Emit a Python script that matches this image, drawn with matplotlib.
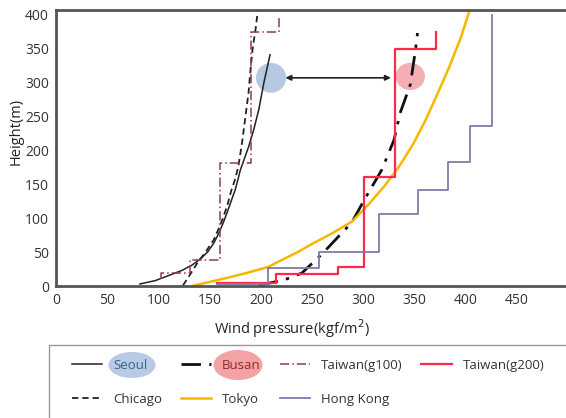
import numpy as np
import matplotlib.pyplot as plt
from matplotlib.patches import Ellipse, Rectangle

plt.rcParams['font.family'] = ['Open Sans', 'DejaVu Sans']

# smooth curves: pressure (kgf/m2) vs height (m)
seoul_p = [82, 97, 111, 123, 133, 141, 148, 154, 159, 163, 167, 171, 175, 177.5,
           180, 184, 188, 193, 198, 203, 209]
seoul_h = [3, 8, 16, 23, 31, 40, 50, 63, 78, 92, 108, 125, 142, 156,
           171, 188, 205, 230, 260, 300, 341]

chicago_p = [124, 131, 138, 146, 154, 159, 163, 167.5, 171, 175, 178, 180, 182,
             185, 188, 190, 192, 195, 197]
chicago_h = [1, 17, 34, 50, 68, 85, 100, 120, 140, 158, 176, 195, 215,
             250, 285, 320, 350, 380, 405]

busan_p = [198, 223, 240, 259, 289, 301, 318, 330, 336, 346, 351, 353]
busan_h = [1, 9, 19, 46, 94, 127, 171, 215, 255, 297, 348, 373]

tokyo_p = [133, 150, 170, 188, 207, 220, 236, 250, 270, 289, 305, 321, 335,
           349, 361, 373, 384, 395, 404]
tokyo_h = [0, 6, 13, 20, 28, 38, 50, 62, 78, 95, 120, 148, 176,
           210, 245, 285, 323, 365, 407]

# step curves
tw100_p = [103, 103, 131, 160, 190, 218]
tw100_h = [10, 19, 38, 181, 375, 400]

tw200_p = [157, 215, 275, 301, 331, 371]
tw200_h = [5, 18, 28, 161, 350, 375]

hk_p = [157, 207, 257, 315, 353, 383, 404, 426]
hk_h = [3, 27, 50, 106, 142, 183, 236, 400]

xticks = [0, 50, 100, 150, 200, 250, 300, 350, 400, 450]
yticks = [0, 50, 100, 150, 200, 250, 300, 350, 400]

fig = plt.figure(figsize=(5.66, 4.18), dpi=100)
ax = fig.add_axes([56/566, 132/418, 510/566, 276/418])

l_seoul, = ax.plot(seoul_p, seoul_h, color='#222222', lw=1.1, label='Seoul')
l_chi, = ax.plot(chicago_p, chicago_h, color='#222222', lw=1.3, ls=(0, (3.5, 2.2)), label='Chicago')
l_busan, = ax.plot(busan_p, busan_h, color='#111111', lw=2, ls=(0, (7, 3, 1.2, 3)), label='Busan')
l_tokyo, = ax.plot(tokyo_p, tokyo_h, color='#F5B800', lw=1.8, label='Tokyo')
l_tw1, = ax.step(tw100_p, tw100_h, where='post', color='#8E3B4E', lw=1.1,
                 ls=(0, (6, 2, 1, 2)), label='Taiwan(g100)')
l_tw2, = ax.step(tw200_p, tw200_h, where='post', color='#FF2A4A', lw=1.6, label='Taiwan(g200)')
l_hk, = ax.step(hk_p, hk_h, where='post', color='#7D7DAA', lw=1.3, label='Hong Kong')

# highlight marks
ax.add_patch(Ellipse((210, 307), 29.5, 44, color='#9DB8DA', alpha=0.75, lw=0, zorder=1))
ax.add_patch(Ellipse((346, 309), 28.6, 40, color='#F39AA2', alpha=0.8, lw=0, zorder=1))
ax.annotate('', xy=(224, 307), xytext=(327, 307),
            arrowprops=dict(arrowstyle='<|-|>', color='#222222', lw=1.2,
                            mutation_scale=8, shrinkA=0, shrinkB=0))

ax.set_xlim(0, 498)
ax.set_ylim(0, 407)
ax.set_xticks(xticks)
ax.set_yticks(yticks)
ax.tick_params(length=0, labelsize=10, labelcolor='#333333', pad=5)
for s in ['left', 'bottom', 'top']:
    ax.spines[s].set_linewidth(2)
    ax.spines[s].set_color('#555555')
ax.spines['right'].set_visible(False)

ax.set_xlabel('Wind pressure(kgf/m$^2$)', fontsize=10.5, color='#222222')
ax.xaxis.set_label_coords(0.463, -0.115)
ax.set_ylabel('Height(m)', fontsize=10.5, color='#222222')
ax.yaxis.set_label_coords(-0.063, 0.56)

# legend box and the coloured marks behind two labels
fig.patches.append(Rectangle((49/566, -0.01), 0.95, (418-345)/418 + 0.01,
                             transform=fig.transFigure, fill=False,
                             edgecolor='#999999', lw=1))
fig.patches.append(Ellipse((132/566, 1-365/418), 47/566, 26/418,
                           transform=fig.transFigure, color='#B7CBE5', lw=0))
fig.patches.append(Ellipse((238/566, 1-365/418), 49/566, 30/418,
                           transform=fig.transFigure, color='#F3A3A3', lw=0))

handles = [l_seoul, l_chi, l_busan, l_tokyo, l_tw1, l_hk, l_tw2]
leg = fig.legend(handles=handles, labels=[h.get_label() for h in handles],
                 loc='upper left', bbox_to_anchor=(72/566, 1-359/418),
                 ncol=4, frameon=False, fontsize=9.5, borderpad=0, borderaxespad=0,
                 handlelength=2.3, handletextpad=0.8, columnspacing=1.45,
                 labelspacing=1.6)
for t in leg.get_texts():
    t.set_color('#333333')
leg.get_texts()[0].set_color('#3F5F8C')
leg.get_texts()[2].set_color('#8E2A2A')

fig.savefig('out.png', dpi=100)
